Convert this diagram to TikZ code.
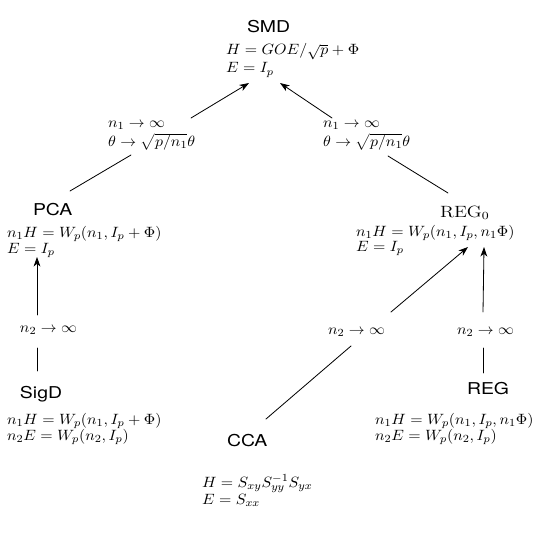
\documentclass[tikz,border=0pt]{standalone}
\usepackage{fontspec}
\newfontfamily\hel{TeX Gyre Heros}
\usetikzlibrary{arrows.meta,calc}
\newcommand\sx[1]{\scalebox{1.19}[1]{#1}}
\newcommand\mx[1]{\scalebox{1.065}[1]{#1}}
\begin{document}
\begin{tikzpicture}[x=0.735pt,y=-0.735pt,
  ttl/.style={anchor=base west, inner sep=0pt, outer sep=0pt, font=\hel\fontsize{12}{14}\selectfont},
  rttl/.style={anchor=base west, inner sep=0pt, outer sep=0pt, font=\fontsize{12}{14}\selectfont},
  mth/.style={anchor=base west, inner sep=0pt, outer sep=0pt, font=\fontsize{10.8}{13}\selectfont},
  con/.style={line width=0.6pt, line cap=round},
  arr/.style={con, -{Stealth[length=7pt,width=5pt,inset=2pt]}}]
\useasboundingbox (0,0) rectangle (533,533);

% SMD
\node[ttl] (smdT) at (247,33) {\sx{SMD}};
\node[mth] (smdH) at (226,55) {\mx{$H = GOE/\sqrt{p} + \Phi$}};
\node[mth] (smdE) at (226,73) {\mx{$E = I_p$}};

% limit labels top
\node[mth] (lN) at (108,127) {\mx{$n_1 \to \infty$}};
\node[mth] (lT) at (108,146) {\mx{$\theta \to \sqrt{p/n_1}\theta$}};
\node[mth] (rN) at (323,127) {\mx{$n_1 \to \infty$}};
\node[mth] (rT) at (323,146) {\mx{$\theta \to \sqrt{p/n_1}\theta$}};

% PCA
\node[ttl] (pcaT) at (33,215) {\sx{PCA}};
\node[mth] (pcaH) at (7,237) {\mx{$n_1H = W_p(n_1, I_p + \Phi)$}};
\node[mth] (pcaE) at (7,253) {\mx{$E = I_p$}};

% REG0
\node[rttl] (reg0T) at (440,217) {\sx{$\mathrm{REG}_0$}};
\node[mth] (reg0H) at (356,236) {\mx{$n_1H = W_p(n_1, I_p, n_1\Phi)$}};
\node[mth] (reg0E) at (356,251) {\mx{$E = I_p$}};

% n2 labels
\node[mth] (sN) at (20,332) {\mx{$n_2 \to \infty$}};
\node[mth] (cN) at (328,334) {\mx{$n_2 \to \infty$}};
\node[mth] (gN) at (457,334) {\mx{$n_2 \to \infty$}};

% SigD
\node[ttl] (sigT) at (20,398) {\sx{SigD}};
\node[mth] (sigH) at (7,424) {\mx{$n_1H = W_p(n_1, I_p + \Phi)$}};
\node[mth] (sigE) at (7,440) {\mx{$n_2E = W_p(n_2, I_p)$}};

% REG
\node[ttl] (regT) at (467,394) {\sx{REG}};
\node[mth] (regH) at (375,424) {\mx{$n_1H = W_p(n_1, I_p, n_1\Phi)$}};
\node[mth] (regE) at (375,440) {\mx{$n_2E = W_p(n_2, I_p)$}};

% CCA
\node[ttl] (ccaT) at (227,446) {\sx{CCA}};
\node[mth] (ccaH) at (202,487) {\mx{$H = S_{xy}S_{yy}^{-1}S_{yx}$}};
\node[mth] (ccaE) at (202,504) {\mx{$E = S_{xx}$}};

% connectors
\draw[arr] ($(lT.base west)+(83,-28)$) -- ($(smdE.base west)+(23,10)$);
\draw[arr] ($(rT.base west)+(9,-28)$) -- ($(smdE.base west)+(54,10)$);
\draw[con] ($(lT.base west)+(23,9)$) -- ($(pcaT.base west)+(37,-24)$);
\draw[con] ($(rT.base west)+(65,10)$) -- ($(reg0T.base west)+(8,-24)$);
\draw[arr] ($(sN.base west)+(17,-17)$) -- ($(pcaE.base west)+(30,4)$);
\draw[con] ($(sN.base west)+(17,16)$) -- ($(sigT.base west)+(17,-27)$);
\draw[arr] ($(cN.base west)+(63,-22)$) -- ($(reg0E.base west)+(112,-4)$);
\draw[arr] ($(gN.base west)+(26,-22)$) -- ($(reg0E.base west)+(128,-4)$);
\draw[con] ($(ccaT.base west)+(39,-27)$) -- ($(cN.base west)+(23,12)$);
\draw[con] ($(gN.base west)+(26,14)$) -- ($(regT.base west)+(16,-21)$);
\end{tikzpicture}
\end{document}
